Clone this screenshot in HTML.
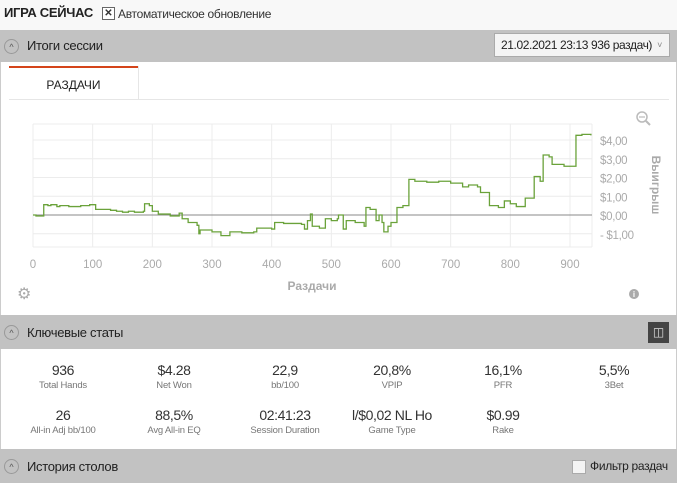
<!DOCTYPE html>
<html><head><meta charset="utf-8">
<style>
body{margin:0;width:677px;height:483px;background:#f8f8f8;font-family:"Liberation Sans",sans-serif;position:relative;overflow:hidden;color:#333}
.abs{position:absolute;white-space:nowrap}
.bar{position:absolute;left:0;width:677px;background:#c2c2c2}
.circ{position:absolute;left:4px;width:15px;height:15px;border:1px solid #999;border-radius:50%;box-sizing:border-box;font-size:9px;text-align:center;line-height:14px;color:#555}
.bt{position:absolute;left:27px;font-size:13px;color:#222;white-space:nowrap;letter-spacing:-0.3px}
.stat{position:absolute;width:110px;text-align:center;white-space:nowrap}
.v{font-size:14px;color:#333;letter-spacing:-0.4px}
.l{font-size:9.5px;color:#777;margin-top:2px;letter-spacing:-0.2px}
</style></head><body>
<div class="abs" style="left:4px;top:5px;font-size:13px;font-weight:bold;color:#222;letter-spacing:-0.3px">ИГРА СЕЙЧАС</div>
<div class="abs" style="left:102px;top:7px;width:11px;height:11px;border:1px solid #666;font-size:10px;line-height:11px;text-align:center;font-weight:bold;background:#fff">✕</div>
<div class="abs" style="left:118px;top:7px;font-size:12px;color:#333;letter-spacing:-0.3px">Автоматическое обновление</div>

<div class="bar" style="top:30px;height:32px">
<div class="circ" style="top:9px">^</div>
<div class="bt" style="top:8px">Итоги сессии</div>
<div class="abs" style="left:494px;top:3px;width:176px;height:24px;background:#f4f4f4;border:1px solid #aaa;box-sizing:border-box;font-size:12px;line-height:22px;padding-left:6px;color:#222;letter-spacing:-0.4px">21.02.2021 23:13 936 раздач)<span style="position:absolute;right:7px;color:#888;font-size:9px">˅</span></div>
</div>

<div class="abs" style="left:0;top:62px;width:675px;height:253px;background:#fff;border-left:1px solid #ccc;border-right:1px solid #ccc"></div>
<div class="abs" style="left:9px;top:66px;width:129px;height:34px;border-top:2px solid #d4441a;background:#fff;font-size:12px;text-align:center;line-height:34px;box-sizing:border-box;color:#222">РАЗДАЧИ</div>
<div class="abs" style="left:9px;top:99px;width:660px;height:1px;background:#e6e6e6"></div>
<div class="abs" style="left:138px;top:66px;width:1px;height:34px;background:#e6e6e6"></div>

<svg class="abs" style="left:0;top:0" width="677" height="483" id="chart"></svg>

<div class="bar" style="top:315px;height:34px">
<div class="circ" style="top:10px">^</div>
<div class="bt" style="top:10px">Ключевые статы</div>
<div class="abs" style="left:648px;top:7px;width:21px;height:21px;background:#444;color:#ddd;font-size:12px;text-align:center;line-height:21px">◫</div>
</div>
<div class="abs" style="left:0;top:349px;width:675px;height:100px;background:#fff;border-left:1px solid #ccc;border-right:1px solid #ccc"></div>
<div id="stats"></div>

<div class="bar" style="top:449px;height:34px">
<div class="circ" style="top:10px">^</div>
<div class="bt" style="top:10px">История столов</div>
<div class="abs" style="left:572px;top:11px;width:12px;height:12px;background:#f4f4f4;border:1px solid #aaa"></div>
<div class="abs" style="left:590px;top:10px;font-size:12px;color:#222;letter-spacing:-0.3px">Фильтр раздач</div>
</div>

<script>
const hands=[0,5,15,18,25,30,40,45,60,80,95,100,105,130,140,150,160,170,185,187,195,200,210,230,245,250,260,275,278,280,300,315,325,330,350,370,375,400,405,420,450,455,460,465,468,480,490,500,510,512,520,525,540,555,558,565,575,580,585,588,595,600,610,620,630,640,660,680,700,720,730,745,750,765,780,790,800,810,820,825,835,840,850,855,865,870,890,905,910,920,935];
const winnings=[0,-0.05,-0.05,0.55,0.5,0.55,0.45,0.5,0.45,0.5,0.55,0.55,0.3,0.25,0.2,0.15,0.2,0.15,0.2,0.6,0.5,0.2,0.05,-0.05,0.1,-0.2,-0.4,-0.55,-1.0,-0.8,-0.9,-1.1,-1.1,-0.9,-0.95,-0.9,-0.7,-0.75,-0.4,-0.45,-0.5,-0.75,-0.3,0.05,-0.6,-0.7,-0.2,-0.3,-0.2,0.0,-0.75,-0.3,-0.4,-0.6,0.4,0.3,-0.3,0.0,-0.4,-0.9,-0.6,-0.4,0.4,0.5,1.9,1.8,1.75,1.8,1.7,1.5,1.6,1.5,1.2,0.5,0.4,0.75,0.6,0.45,0.45,0.9,0.9,2.05,1.8,3.2,3.1,2.7,2.6,2.6,4.25,4.3,4.25];
const xTicks=[0,100,200,300,400,500,600,700,800,900];
const yTicks=[-1,0,1,2,3,4];
const yTickLabels=["- $1,00","$0,00","$1,00","$2,00","$3,00","$4,00"];
const statValues=["936","$4.28","22,9","20,8%","16,1%","5,5%","26","88,5%","02:41:23","l/$0,02 NL Ho","$0.99"];
const statLabels=["Total Hands","Net Won","bb/100","VPIP","PFR","3Bet","All-in Adj bb/100","Avg All-in EQ","Session Duration","Game Type","Rake"];

const NS="http://www.w3.org/2000/svg";
const svg=document.getElementById('chart');
const X=v=>33+v*(537/900);
const Y=v=>215-v*18.75;
function mk(t,a,txt){const e=document.createElementNS(NS,t);for(const k in a)e.setAttribute(k,a[k]);if(txt!==undefined)e.textContent=txt;svg.appendChild(e);return e;}
xTicks.forEach(t=>{const l=mk('line',{x1:X(t),x2:X(t),y1:124,y2:247,stroke:'#ececec'});
 const tx=mk('text',{x:X(t),y:268,'text-anchor':'middle','font-size':11.5,fill:'#aaa'},String(t));});
mk('line',{x1:592,x2:592,y1:124,y2:247,stroke:'#ececec'});
mk('line',{x1:33,x2:592,y1:124,y2:124,stroke:'#ececec'});
mk('line',{x1:33,x2:592,y1:247,y2:247,stroke:'#ececec'});
yTicks.forEach((t,i)=>{if(t!==0){const l=mk('line',{x1:33,x2:592,y1:Y(t),y2:Y(t),stroke:'#ececec'});}
 const tx=mk('text',{x:600,y:Y(t)+5,'font-size':11.5,fill:'#aaa','letter-spacing':'-0.3'},yTickLabels[i]);});
const z=mk('line',{x1:33,x2:592,y1:Y(0),y2:Y(0),stroke:'#888','stroke-width':1});

let d='M'+X(hands[0])+','+Y(winnings[0]);
for(let i=1;i<hands.length;i++){d+=' H'+X(hands[i])+' V'+Y(winnings[i]);}
const p=mk('path',{d:d,fill:'none',stroke:'#6aa23a','stroke-width':1.3});

const xt=mk('text',{x:312,y:290,'text-anchor':'middle','font-size':12,fill:'#aaa','font-weight':'bold'},'Раздачи');

const yt=mk('text',{x:0,y:0,'text-anchor':'middle','font-size':12,fill:'#aaa','font-weight':'bold',transform:'translate(652,185) rotate(90)'},'Выигрыш');

mk('circle',{cx:642,cy:117,r:5,fill:'none',stroke:'#bbb','stroke-width':1.5});
mk('line',{x1:646,y1:121,x2:650,y2:125,stroke:'#bbb','stroke-width':2});
const zl=mk('line',{x1:639,y1:117,x2:645,y2:117,stroke:'#bbb','stroke-width':1.2});

const gear=mk('text',{x:17,y:299,'font-size':16,fill:'#aaa'},'⚙');
const info=mk('circle',{cx:634,cy:294,r:5,fill:'#aaa'});
mk('text',{x:634,y:297,'font-size':8,fill:'#fff','text-anchor':'middle','font-weight':'bold'},'i');
const st=document.getElementById('stats');
const cx=[63,174,285,392,503,614];
statValues.forEach((v,i)=>{const d=document.createElement('div');d.className='stat';
 
 
 d.style.left=(cx[i%6]-55)+'px';d.style.top=(i<6?362:407)+'px';
 d.innerHTML='<div class="v">'+v+'</div><div class="l">'+statLabels[i]+'</div>';st.appendChild(d);});
</script>
</body></html>
